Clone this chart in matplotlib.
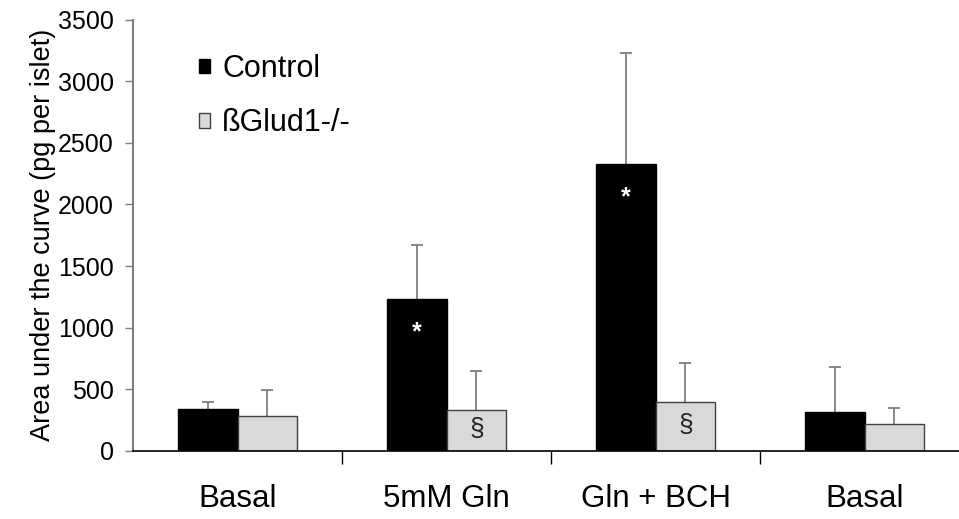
import matplotlib
matplotlib.use("Agg")
import matplotlib.pyplot as plt
import numpy as np
from matplotlib.patches import Patch

plt.rcParams['font.family'] = ['Liberation Sans', 'DejaVu Sans']

categories = ["Basal", "5mM Gln", "Gln + BCH", "Basal"]
control = [340, 1232, 2326, 316]
control_err = [57, 438, 900, 365]
glud = [284, 333, 397, 219]
glud_err = [211, 316, 317, 130]
control_marks = ["", "*", "*", ""]
glud_marks = ["", "§", "§", ""]
yticks = [0, 500, 1000, 1500, 2000, 2500, 3000, 3500]

W, H = 959, 519
fig = plt.figure(figsize=(W/100, H/100), dpi=100)
ax = fig.add_axes([133/W, (H-451)/H, (969-133)/W, (451-19.5)/H])

x = np.arange(len(categories))
bw = 0.287
ax.bar(x - bw/2, control, bw, color="black", edgecolor="black", linewidth=1, zorder=2)
ax.bar(x + bw/2, glud, bw, color="#d9d9d9", edgecolor="#404040", linewidth=1, zorder=2)
for xs, vals, errs in [(x - bw/2, control, control_err), (x + bw/2, glud, glud_err)]:
    _, caps, _ = ax.errorbar(xs, vals, yerr=[np.zeros(len(vals)), errs], fmt="none",
                             ecolor="#7f7f7f", elinewidth=1.3, capsize=4, capthick=1.3, zorder=1)
    caps[0].set_visible(False)

for i in range(len(categories)):
    if control_marks[i]:
        ax.text(x[i] - bw/2, control[i] - 270, control_marks[i], color="white",
                ha="center", va="center", fontsize=18, fontweight="bold", zorder=3)
    if glud_marks[i]:
        ax.text(x[i] + bw/2, glud[i] * 0.5 + 10, glud_marks[i], color="#222222",
                ha="center", va="center", fontsize=19, zorder=3)

ax.set_xlim(-0.5, 3.5)
ax.set_ylim(0, 3500)
ax.set_yticks(yticks)
ax.set_yticklabels([str(v) for v in yticks], fontsize=18)
ax.set_xticks(x)
ax.set_xticklabels(categories, fontsize=22.5)
ax.set_xticks([0.5, 1.5, 2.5], minor=True)
ax.tick_params(axis="x", which="major", length=0, pad=24)
ax.tick_params(axis="x", which="minor", length=9, width=1, color="black", direction="out")
ax.tick_params(axis="y", length=6, width=1, color="#7f7f7f", direction="out", pad=8)

for s in ["top", "right"]:
    ax.spines[s].set_visible(False)
ax.spines["left"].set_color("#7f7f7f")
ax.spines["left"].set_linewidth(1.5)
ax.spines["bottom"].set_color("black")
ax.spines["bottom"].set_linewidth(1.2)

ax.set_ylabel("Area under the curve (pg per islet)", fontsize=19.5, labelpad=1)

handles = [Patch(facecolor="black", edgecolor="black"),
           Patch(facecolor="#d9d9d9", edgecolor="#404040")]
fig.legend(handles, ["Control", "ßGlud1-/-"], loc="upper left",
           bbox_to_anchor=(199/W, 1 - 54/H), frameon=False, fontsize=22,
           handlelength=0.36, handleheight=0.36, handletextpad=0.4,
           labelspacing=0.8, borderpad=0, borderaxespad=0)

fig.savefig("out.png", dpi=100)
